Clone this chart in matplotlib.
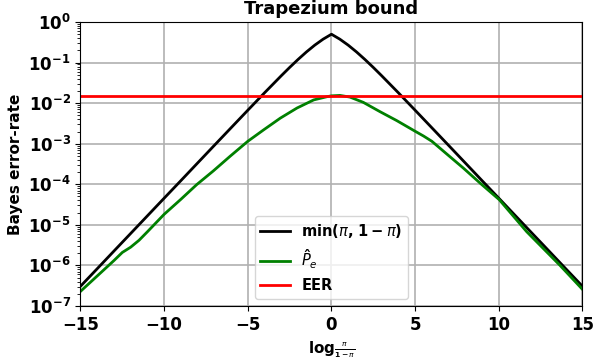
import numpy as np
import matplotlib
matplotlib.use("Agg")
import matplotlib.pyplot as plt

plt.rcParams['font.weight'] = 'bold'
plt.rcParams['axes.labelweight'] = 'bold'
plt.rcParams['axes.titleweight'] = 'bold'
plt.rcParams['font.size'] = 12
# greek / italic math in regular weight, like the original
plt.rcParams['mathtext.fontset'] = 'custom'
plt.rcParams['mathtext.rm'] = 'DejaVu Sans'
plt.rcParams['mathtext.it'] = 'DejaVu Sans:italic:normal'
plt.rcParams['mathtext.bf'] = 'DejaVu Sans:bold'

# black curve: min(pi, 1-pi)
x_min = [-15, -14, -13, -12, -11, -10, -9, -8, -7, -6, -5, -4, -3, -2.5, -2, -1.5, -1, -0.5, 0,
         0.5, 1, 1.5, 2, 2.5, 3, 4, 5, 6, 7, 8, 9, 10, 11, 12, 13, 14, 15]
y_min = [3.06e-7, 8.3e-7, 2.26e-6, 6.14e-6, 1.67e-5, 4.54e-5, 1.23e-4, 3.35e-4, 9.11e-4, 2.47e-3,
         6.69e-3, 1.80e-2, 4.74e-2, 7.59e-2, 0.1192, 0.1824, 0.2689, 0.3775, 0.5,
         0.3775, 0.2689, 0.1824, 0.1192, 7.59e-2, 4.74e-2, 1.80e-2, 6.69e-3, 2.47e-3, 9.11e-4,
         3.35e-4, 1.23e-4, 4.54e-5, 1.67e-5, 6.14e-6, 2.26e-6, 8.3e-7, 3.06e-7]

# green curve: estimated P_e (log10 values)
x_pe = [-15, -14, -13, -12.5, -12, -11.5, -11, -10, -9, -8.06, -7.06, -6.06, -5, -4.06, -3.06,
        -2.06, -1.06, -0.26, 0, 0.51, 1.1, 1.9, 2.9, 3.9, 5.03, 5.5, 6.0, 6.88, 7.88, 8.88, 10.03,
        11.67, 13.66, 15]
log_pe = [-6.64, -6.26, -5.88, -5.68, -5.55, -5.38, -5.17, -4.74, -4.37, -4.01, -3.67, -3.31, -2.94,
          -2.66, -2.37, -2.12, -1.92, -1.84, -1.82, -1.81, -1.85, -1.98, -2.21, -2.43, -2.70, -2.81,
          -2.94, -3.25, -3.60, -3.97, -4.38, -5.17, -6.00, -6.59]

eer = 0.0152
x_range = [-15, 15]

fig, ax = plt.subplots(figsize=(5.98, 3.58), dpi=100)
fig.subplots_adjust(left=0.1346, right=0.974, top=0.9385, bottom=0.1453)

ax.plot(x_min, y_min, color='k', linewidth=2,
        label=r'$\mathbf{min(}\pi\mathbf{,\,1}-\pi\mathbf{)}$')
ax.plot(x_pe, 10.0 ** np.array(log_pe), color='g', linewidth=2, label=r'$\hat{P}_e$')
ax.plot(x_range, [eer, eer], color='r', linewidth=2, label='EER')

ax.set_yscale('log')
ax.set_xlim(-15, 15)
ax.set_ylim(1e-7, 1e0)
ax.set_xticks([-15, -10, -5, 0, 5, 10, 15])
ax.grid(True, which='major', color='#b0b0b0', linewidth=1.2)

ax.set_title('Trapezium bound', fontsize=13)
ax.set_xlabel(r'$\mathbf{log}\genfrac{}{}{0.8}{2}{\pi}{\mathbf{1}-\pi}$', fontsize=11)
ax.set_ylabel('Bayes error-rate', fontsize=11)
ax.legend(loc='lower center', fontsize=10.5)

plt.savefig('out.png')
